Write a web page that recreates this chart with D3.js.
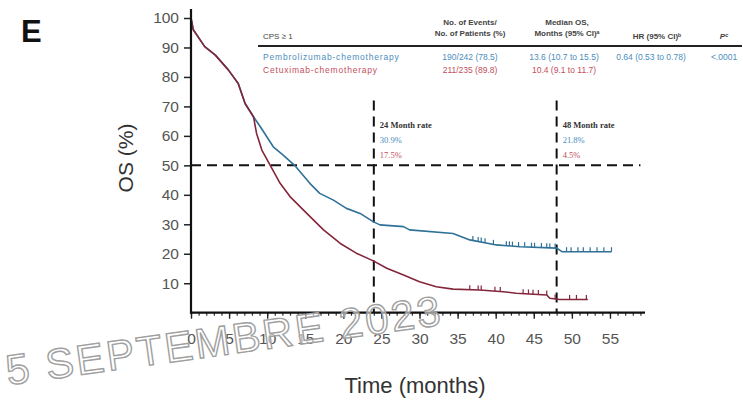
<!DOCTYPE html>
<html><head><meta charset="utf-8">
<script src="https://cdn.jsdelivr.net/npm/d3@7"></script>
<style>html,body{margin:0;padding:0;background:#fff;}svg{display:block;}</style>
</head><body>
<svg id="c" width="743" height="403"></svg>
<script>
// ---- data ----
const timeBlue = [0,0.3,1.8,3.2,4.9,6.2,7.1,8.2,9.1,10.8,12.1,13.6,15.6,16.9,18.7,20.4,22.2,23.9,24.8,27.9,28.7,34.4,36.6,40.1,43.2,48,48.7,55.2];
const survBlue = [100,96,90.3,87.4,82.4,77.8,71,66.5,63.1,56.3,53.5,50,43.9,40.5,38.2,35.4,33.7,30.9,29.8,29.2,28.1,26.9,24.7,23,22.4,21.9,20.7,20.7];
const timeRed = [0,0.3,1.8,3.2,4.9,6.2,7.1,8.2,8.6,9.3,10.4,11.7,13,15.2,17.4,19.6,21.7,24,25.7,27.9,30,32.2,34.4,37.9,41,42.7,46.7,47.1,48.4,52.1];
const survRed = [100,96,90.3,87.4,82.4,77.8,71,66.5,60.9,55.2,50,43.9,39.4,33.7,28.1,23.5,20.2,17.5,15.1,12.8,10.5,8.8,8,7.7,7.1,6.6,6,4.9,4.5,4.5];
const censorBlue = [37.0,37.7,38.1,38.6,39.7,41.4,41.8,42.2,43.0,43.8,44.7,45.1,46.0,46.7,47.1,47.8,49.3,49.9,50.8,51.5,52.4,53.3,54.2,55.2];
const censorRed = [36.6,37.7,38.1,39.9,40.6,43.6,44.3,44.9,45.6,46.7,47.8,49.7,50.6,51.9];
const yTicks = [10,20,30,40,50,60,70,80,90,100];
const xMajor = [0,5,10,15,20,25,30,35,40,45,50,55];
const rateTimes = [24,48];
const rateHeaders = ["24 Month rate","48 Month rate"];
const rateBlue = ["30.9%","21.8%"];
const rateRed = ["17.5%","4.5%"];
const arms = ["Pembrolizumab-chemotherapy","Cetuximab-chemotherapy"];
const events = ["190/242 (78.5)","211/235 (89.8)"];
const medians = ["13.6 (10.7 to 15.5)","10.4 (9.1 to 11.7)"];
const hrText = "0.64 (0.53 to 0.78)";
const pText = "<.0001";

const blue = "#2f7197", red = "#84263a";
const blueTxt = "#4b8dbd", redTxt = "#c24e5c";

const svg = d3.select("#c");
svg.append("rect").attr("width",743).attr("height",403).attr("fill","#fff");

const x = d3.scaleLinear().domain([0,59.6]).range([191,645]);
const y = d3.scaleLinear().domain([0,100]).range([312.7,18]);

// dashed reference lines
const dash = "10,6";
svg.append("line").attr("x1",x(0)).attr("x2",x(59)).attr("y1",y(50)).attr("y2",y(50))
  .attr("stroke","#111").attr("stroke-width",2).attr("stroke-dasharray",dash);
rateTimes.forEach(t=>{
  svg.append("line").attr("x1",x(t)).attr("x2",x(t)).attr("y1",y(72)).attr("y2",y(0))
    .attr("stroke","#111").attr("stroke-width",2).attr("stroke-dasharray",dash);
});

// curves
function drawArm(times, survs, censor, color){
  const pts = times.map((t,i)=>[t,survs[i]]);
  const line = d3.line().x(d=>x(d[0])).y(d=>y(d[1])).curve(d3.curveLinear);
  svg.append("path").datum(pts).attr("d",line).attr("fill","none")
    .attr("stroke",color).attr("stroke-width",1.6).attr("stroke-linejoin","round");
  const interp = d3.scaleLinear().domain(times).range(survs).clamp(true);
  svg.append("g").selectAll("line").data(censor).join("line")
    .attr("x1",d=>x(d)).attr("x2",d=>x(d))
    .attr("y1",d=>y(interp(d))).attr("y2",d=>y(interp(d))-4.5)
    .attr("stroke",color).attr("stroke-width",1.2);
}
drawArm(timeBlue,survBlue,censorBlue,blue);
drawArm(timeRed,survRed,censorRed,red);

// axes
const font = "'Liberation Sans', Arial, sans-serif";
const yAxis = d3.axisLeft(y).tickValues(yTicks).tickSize(7).tickPadding(5);
const gy = svg.append("g").attr("transform",`translate(${x(0)},0)`).call(yAxis);
gy.select(".domain").remove();
gy.selectAll("line").attr("stroke","#222").attr("stroke-width",1.5);
gy.selectAll("text").attr("font-family",font).attr("font-size",15.5).attr("fill","#555");
svg.append("line").attr("x1",x(0)).attr("x2",x(0)).attr("y1",9).attr("y2",y(0)+1)
  .attr("stroke","#111").attr("stroke-width",2.2);

const xMinorAxis = d3.axisBottom(x).tickValues(d3.range(0,60,1)).tickSize(3).tickFormat("");
const gxm = svg.append("g").attr("transform",`translate(0,${y(0)})`).call(xMinorAxis);
gxm.select(".domain").remove();
gxm.selectAll("line").attr("stroke","#333").attr("stroke-width",1.2);
const xAxis = d3.axisBottom(x).tickValues(xMajor).tickSize(6).tickPadding(14);
const gx = svg.append("g").attr("transform",`translate(0,${y(0)})`).call(xAxis);
gx.select(".domain").remove();
gx.selectAll("line").attr("stroke","#222").attr("stroke-width",1.4);
gx.selectAll("text").attr("font-family",font).attr("font-size",15.5).attr("fill","#555");
svg.append("line").attr("x1",x(0)-1).attr("x2",x(59.6)).attr("y1",y(0)).attr("y2",y(0))
  .attr("stroke","#111").attr("stroke-width",2.2);

// axis titles
svg.append("text").attr("transform","translate(133,158) rotate(-90)").attr("text-anchor","middle")
  .attr("font-family",font).attr("font-size",21).attr("fill","#333").text("OS (%)");
svg.append("text").attr("x",415).attr("y",393).attr("text-anchor","middle")
  .attr("font-family",font).attr("font-size",22).attr("fill","#333").text("Time (months)");
svg.append("text").attr("x",21).attr("y",42).attr("font-family",font).attr("font-weight","bold")
  .attr("font-size",31).attr("fill","#111").text("E");

// rate annotations
const serif = "'Liberation Serif', 'Times New Roman', serif";
rateTimes.forEach((t,i)=>{
  const tx = x(t)+6;
  svg.append("text").attr("x",tx).attr("y",128).attr("font-family",serif).attr("font-weight","bold")
    .attr("font-size",8.5).attr("fill","#333").text(rateHeaders[i]);
  svg.append("text").attr("x",tx).attr("y",143).attr("font-family",serif)
    .attr("font-size",8.5).attr("fill",blueTxt).text(rateBlue[i]);
  svg.append("text").attr("x",tx).attr("y",158).attr("font-family",serif)
    .attr("font-size",8.5).attr("fill",redTxt).text(rateRed[i]);
});

// legend table
const tg = svg.append("g").attr("font-family",font).attr("font-size",8);
tg.append("line").attr("x1",258).attr("x2",742).attr("y1",46).attr("y2",46).attr("stroke","#222").attr("stroke-width",2.2);
tg.append("text").attr("x",263).attr("y",39).attr("fill","#444").text("CPS \u2265 1");
tg.append("text").attr("x",470).attr("y",25).attr("text-anchor","middle").attr("fill","#444").attr("font-weight","bold").text("No. of Events/");
tg.append("text").attr("x",470).attr("y",36).attr("text-anchor","middle").attr("fill","#444").attr("font-weight","bold").text("No. of Patients (%)");
tg.append("text").attr("x",567).attr("y",25).attr("text-anchor","middle").attr("fill","#444").attr("font-weight","bold").text("Median OS,");
tg.append("text").attr("x",567).attr("y",36).attr("text-anchor","middle").attr("fill","#444").attr("font-weight","bold").text("Months (95% CI)\u1d43");
tg.append("text").attr("x",657).attr("y",39).attr("text-anchor","middle").attr("fill","#444").attr("font-weight","bold").text("HR (95% CI)\u1d47");
tg.append("text").attr("x",724).attr("y",39).attr("text-anchor","middle").attr("fill","#444").attr("font-weight","bold").attr("font-style","italic").text("P\u1d9c");
const rowY = [60,73], rowC = [blueTxt, redTxt];
arms.forEach((a,i)=>{
  tg.append("text").attr("x",263).attr("y",rowY[i]).attr("font-size",8.5).attr("fill",rowC[i]).attr("letter-spacing",0.8).text(a);
  tg.append("text").attr("x",470).attr("y",rowY[i]).attr("font-size",8.5).attr("text-anchor","middle").attr("fill",rowC[i]).text(events[i]);
  tg.append("text").attr("x",564).attr("y",rowY[i]).attr("font-size",8.5).attr("text-anchor","middle").attr("fill",rowC[i]).text(medians[i]);
});
tg.append("text").attr("x",651).attr("y",rowY[0]).attr("font-size",8.5).attr("text-anchor","middle").attr("fill",blueTxt).text(hrText);
tg.append("text").attr("x",724).attr("y",rowY[0]).attr("font-size",8.5).attr("text-anchor","middle").attr("fill",blueTxt).text(pText);

// watermark
svg.append("text").attr("transform","translate(8,385) rotate(-7.9)")
  .attr("font-family",font).attr("font-size",42)
  .attr("fill","rgba(255,255,255,0.55)").attr("stroke","#a0a0a0").attr("stroke-width",1.4)
  .attr("textLength",438).attr("lengthAdjust","spacing")
  .text("5 SEPTEMBRE 2023");
</script>
</body></html>
